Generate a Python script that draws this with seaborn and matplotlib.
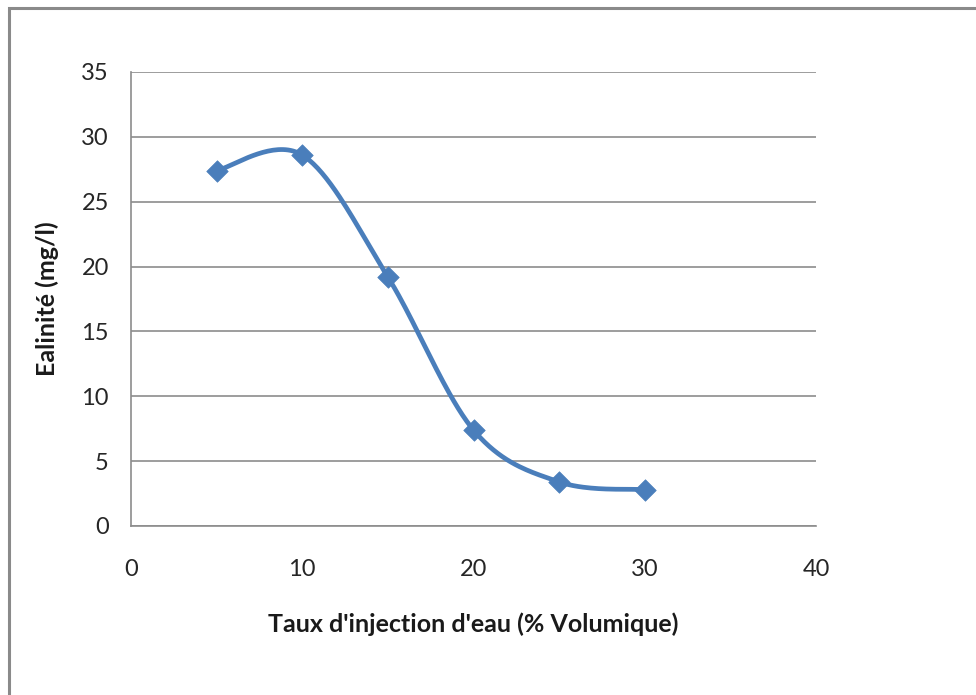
import numpy as np
import pandas as pd
import matplotlib
matplotlib.use("Agg")
import matplotlib.pyplot as plt
import seaborn as sns
from matplotlib.patches import Rectangle

# Data
taux = [5, 10, 15, 20, 25, 30]
ealinite = [27.4, 28.6, 19.2, 7.4, 3.4, 2.8]
x_ticks = [0, 10, 20, 30, 40]
y_ticks = [0, 5, 10, 15, 20, 25, 30, 35]
x_label = "Taux d'injection d'eau (% Volumique)"
y_label = "Ealinité (mg/l)"

sns.set_theme(style="white")
plt.rcParams['font.family'] = ['Lato', 'DejaVu Sans']

def excel_smooth(xs, ys, n=40):
    """Excel-style smoothed line: cubic Bezier segments, control points from neighbours (1/6)."""
    xs = np.asarray(xs, float); ys = np.asarray(ys, float)
    P = np.column_stack([xs, ys])
    out = []
    for i in range(len(P) - 1):
        p0 = P[i - 1] if i > 0 else P[i]
        p1 = P[i]; p2 = P[i + 1]
        p3 = P[i + 2] if i + 2 < len(P) else P[i + 1]
        c1 = p1 + (p2 - p0) / 6.0
        c2 = p2 - (p3 - p1) / 6.0
        t = np.linspace(0, 1, n)[:, None]
        seg = ((1 - t) ** 3) * p1 + 3 * ((1 - t) ** 2) * t * c1 + 3 * (1 - t) * t ** 2 * c2 + t ** 3 * p2
        out.append(seg if i == 0 else seg[1:])
    s = np.vstack(out)
    return s[:, 0], s[:, 1]

sx, sy = excel_smooth(taux, ealinite)
curve = pd.DataFrame({"x": sx, "y": sy})
pts = pd.DataFrame({"x": taux, "y": ealinite})

fig = plt.figure(figsize=(9.76, 6.95), dpi=100)
ax = fig.add_axes([131/976, 1 - 526/695, (816-131)/976, (526-72)/695])

color = "#4A7EBB"
sns.lineplot(data=curve, x="x", y="y", ax=ax, color=color, linewidth=3.4, sort=False,
             solid_capstyle="round", zorder=3)
sns.scatterplot(data=pts, x="x", y="y", ax=ax, marker="D", s=120, color=color,
                edgecolor=color, linewidth=0.5, zorder=4)

ax.set_xlim(0, 40)
ax.set_ylim(0, 35)
ax.set_xticks(x_ticks)
ax.set_yticks(y_ticks)
ax.yaxis.grid(True, color="#8C8C8C", linewidth=1.2)
ax.xaxis.grid(False)
ax.tick_params(axis="both", length=0, labelsize=17, colors="#262626")
ax.tick_params(axis="x", pad=24)
ax.tick_params(axis="y", pad=16)
for side in ["top", "right"]:
    ax.spines[side].set_visible(False)
for side in ["left", "bottom"]:
    ax.spines[side].set_color("#8C8C8C")
    ax.spines[side].set_linewidth(1.2)

ax.set_xlabel(x_label, fontsize=18, fontweight="bold", color="#1a1a1a", labelpad=23)
ax.set_ylabel(y_label, fontsize=18, fontweight="bold", color="#1a1a1a", labelpad=16)

# Outer chart border (partially cut off at right/bottom, as in the reference)
fig.patches.append(Rectangle((9/976, -0.1), 1.2, 1 - 8/695 + 0.1, transform=fig.transFigure,
                             fill=False, edgecolor="#8A8A8A", linewidth=2.2, zorder=0))

fig.savefig("out.png", dpi=100)
